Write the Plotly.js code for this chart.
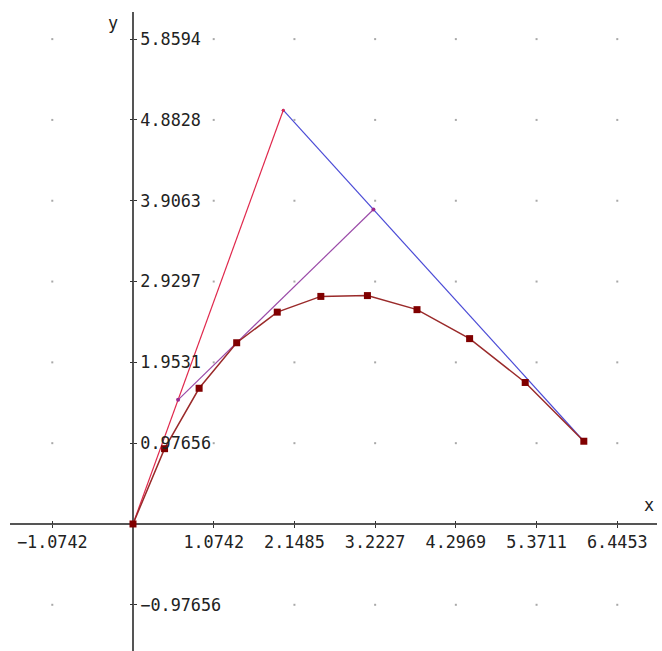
<!DOCTYPE html>
<html>
<head>
<meta charset="utf-8">
<script src="https://cdn.plot.ly/plotly-3.0.1.min.js"></script>
<style>html,body{margin:0;padding:0;background:#fff}#chart{width:662px;height:651px}</style>
</head>
<body>
<div id="chart"></div>
<script>
// Tick values and labels
var xTicks = [-1.0742, 1.0742, 2.1485, 3.2227, 4.2969, 5.3711, 6.4453];
var xTickLabels = ["\u22121.0742", "1.0742", "2.1485", "3.2227", "4.2969", "5.3711", "6.4453"];
var yTicks = [-0.97656, 0.97656, 1.9531, 2.9297, 3.9063, 4.8828, 5.8594];
var yTickLabels = ["\u22120.97656", "0.97656", "1.9531", "2.9297", "3.9063", "4.8828", "5.8594"];

// Control polygon
var redX = [0, 2];
var redY = [0, 5];
var blueX = [2, 6];
var blueY = [5, 1];
// Intermediate segment (t = 0.3)
var purpleX = [0.6, 3.2];
var purpleY = [1.5, 3.8];
// Curve points
var curveX = [0, 0.42, 0.88, 1.38, 1.92, 2.5, 3.12, 3.78, 4.48, 5.22, 6];
var curveY = [0, 0.91, 1.64, 2.19, 2.56, 2.75, 2.76, 2.59, 2.24, 1.71, 1];

var xRange = [-1.637, 6.974];
var yRange = [-1.535, 6.187];
var xPos = (0 - yRange[0]) / (yRange[1] - yRange[0]);
var yPos = (0 - xRange[0]) / (xRange[1] - xRange[0]);

var dotX = [], dotY = [];
xTicks.forEach(function (xv) { yTicks.forEach(function (yv) { dotX.push(xv); dotY.push(yv); }); });

var font = {family: "DejaVu Sans Mono", size: 16.8, color: "#222"};

var traces = [
  {x: dotX, y: dotY, xaxis: "x2", yaxis: "y2", mode: "markers", type: "scatter",
   marker: {size: 2, color: "#a8a8a8", symbol: "square"}, hoverinfo: "skip"},
  {x: blueX, y: blueY, mode: "lines+markers", type: "scatter",
   line: {color: "#4b4bd6", width: 1.2}, marker: {size: 3, color: "#4b4bd6"}},
  {x: redX, y: redY, mode: "lines+markers", type: "scatter",
   line: {color: "#e0284c", width: 1.2}, marker: {size: 3, color: "#e0284c"}},
  {x: purpleX, y: purpleY, mode: "lines+markers", type: "scatter",
   line: {color: "#9a4aa8", width: 1.2}, marker: {size: 4, color: "#9a2a90"}},
  {x: curveX, y: curveY, mode: "lines+markers", type: "scatter",
   line: {color: "#9a2a2a", width: 1.5}, marker: {size: 7, color: "#800000", symbol: "square"}}
];

var layout = {
  width: 662, height: 651,
  margin: {l: 10, r: 5, t: 12, b: 0},
  paper_bgcolor: "#fff", plot_bgcolor: "#fff",
  showlegend: false,
  font: font,
  xaxis: {range: xRange, anchor: "free", position: xPos, side: "bottom",
    showgrid: false, zeroline: true, zerolinecolor: "#555", zerolinewidth: 1.6,
    showline: false, tickmode: "array", tickvals: xTicks, ticktext: xTickLabels,
    ticks: "outside", ticklen: 3, tickwidth: 1, tickcolor: "#333",
    tickfont: font, fixedrange: true, automargin: false},
  yaxis: {range: yRange, anchor: "free", position: yPos, side: "right",
    showgrid: false, zeroline: true, zerolinecolor: "#555", zerolinewidth: 1.6,
    showline: false, tickmode: "array", tickvals: yTicks, ticktext: yTickLabels,
    ticks: "outside", ticklen: 3, tickwidth: 1, tickcolor: "#333",
    tickfont: font, fixedrange: true, automargin: false},
  xaxis2: {range: xRange, overlaying: "x", anchor: "free", position: xPos, side: "top",
    showgrid: false, zeroline: false, showline: false, tickmode: "array", tickvals: xTicks,
    showticklabels: false, ticks: "outside", ticklen: 3, tickwidth: 1, tickcolor: "#333",
    fixedrange: true, automargin: false},
  yaxis2: {range: yRange, overlaying: "y", anchor: "free", position: yPos, side: "left",
    showgrid: false, zeroline: false, showline: false, tickmode: "array", tickvals: yTicks,
    showticklabels: false, ticks: "outside", ticklen: 3, tickwidth: 1, tickcolor: "#333",
    fixedrange: true, automargin: false},
  annotations: [
    {x: 6.867, y: 0.23, xref: "x", yref: "y", text: "x", showarrow: false,
     xanchor: "center", yanchor: "middle", font: font},
    {x: -0.266, y: 6.054, xref: "x", yref: "y", text: "y", showarrow: false,
     xanchor: "center", yanchor: "middle", font: font}
  ]
};

Plotly.newPlot("chart", traces, layout, {displayModeBar: false, staticPlot: true});
</script>
</body>
</html>
